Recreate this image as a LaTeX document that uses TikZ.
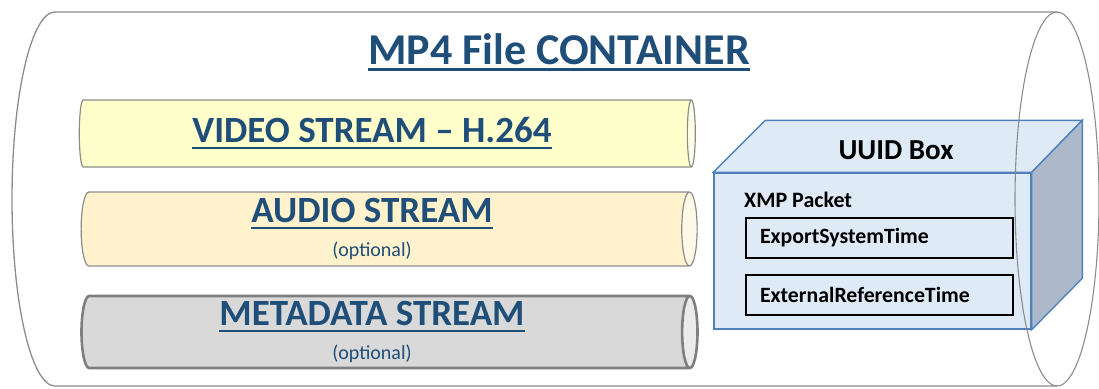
\documentclass[tikz,border=0pt]{standalone}
\usepackage{fontspec}
\setmainfont{Carlito}
\usetikzlibrary{shapes.geometric, positioning, calc}
\definecolor{TitleBlue}{HTML}{1F4E79}
\definecolor{ShellGray}{HTML}{8C8C8C}
\definecolor{VideoFill}{HTML}{FFFFCC}
\definecolor{VideoEnd}{HTML}{FFFFE8}
\definecolor{AudioFill}{HTML}{FFF2CC}
\definecolor{AudioEnd}{HTML}{FFF8E6}
\definecolor{MetaFill}{HTML}{D9D9D9}
\definecolor{MetaEdge}{HTML}{7F7F7F}
\definecolor{MetaEnd}{HTML}{EBEBEB}
\definecolor{BoxFront}{HTML}{DEEBF7}
\definecolor{BoxSide}{HTML}{ADB9CA}
\definecolor{BoxEdge}{HTML}{4F81BD}
\newcommand{\ulined}[1]{\setbox0\hbox{#1}\vtop{\copy0\kern4pt\hrule height 2.2pt width \wd0}}
% stream labels sit a little left of the cylinder's middle
\newcommand{\streamname}[1]{\ulined{#1}\hspace*{26pt}}
\newcommand{\optnote}{{\fontsize{20}{22}\mdseries\selectfont (optional)}\hspace*{26pt}}

\begin{document}
\begin{tikzpicture}[x=1pt, y=1pt,
    stream/.style={cylinder, shape aspect=0.25, draw=ShellGray, line width=1.2pt,
        cylinder uses custom fill, minimum height=616pt, inner sep=0pt,
        align=center, text=TitleBlue, font=\fontsize{37}{38}\selectfont\bfseries},
    fieldbox/.style={draw=black, line width=1.4pt, fill=BoxFront, minimum width=267pt,
        minimum height=40pt, text width=239pt, inner xsep=14pt, align=left,
        font=\fontsize{21.8}{23}\selectfont\bfseries}]
\useasboundingbox (0,0) rectangle (1099,-388);

% outer container shell
\draw[ShellGray, line width=1.3pt] (1057,-12) -- (55,-12)
    arc[start angle=90, end angle=270, x radius=43, y radius=187] -- (1057,-386);

\node[font=\fontsize{44}{46}\selectfont\bfseries, text=TitleBlue, inner sep=0pt]
    (title) at (559,-52) {\ulined{MP4 File CONTAINER}};

% streams
\node[stream, minimum width=67pt, cylinder body fill=VideoFill, cylinder end fill=VideoEnd]
    (video) at (385,-133.5) {\streamname{VIDEO STREAM -- H.264}};
\node[stream, minimum width=74pt, cylinder body fill=AudioFill, cylinder end fill=AudioEnd]
    (audio) at (385,-229) {\streamname{AUDIO STREAM}\\[-4pt]\optnote};
\node[stream, minimum width=72pt, draw=MetaEdge, line width=2.6pt,
    cylinder body fill=MetaFill, cylinder end fill=MetaEnd]
    (meta) at (385,-332) {\streamname{METADATA STREAM}\\[-4pt]\optnote};

% uuid box
\node[draw=BoxEdge, line width=1.4pt, fill=BoxFront, minimum width=317pt,
    minimum height=156pt, inner sep=0pt] (uuid) at (872.5,-251) {};
\draw[BoxEdge, line width=1.4pt, fill=BoxFront] (uuid.north west) -- ++(52,52)
    coordinate (backleft) -- ++(317,0) coordinate (backright) -- (uuid.north east) -- cycle;
\draw[BoxEdge, line width=1.4pt, fill=BoxSide] (uuid.north east) -- (backright)
    -- ++(0,-158) -- (uuid.south east) -- cycle;
\node[font=\fontsize{29}{31}\selectfont\bfseries] (uuidlabel) at (896,-150) {UUID Box};

\node[font=\fontsize{22}{24}\selectfont\bfseries, anchor=west, inner sep=0pt]
    (xmp) at (744,-200) {XMP Packet};
\node[fieldbox] (export) at (879.5,-238) {ExportSystemTime};
\node[fieldbox] (extref) at (879.5,-295) {ExternalReferenceTime};

% far end of the shell, seen through the box
\draw[ShellGray, line width=1.1pt] (1057,-199) ellipse[x radius=42, y radius=187];
\end{tikzpicture}
\end{document}
